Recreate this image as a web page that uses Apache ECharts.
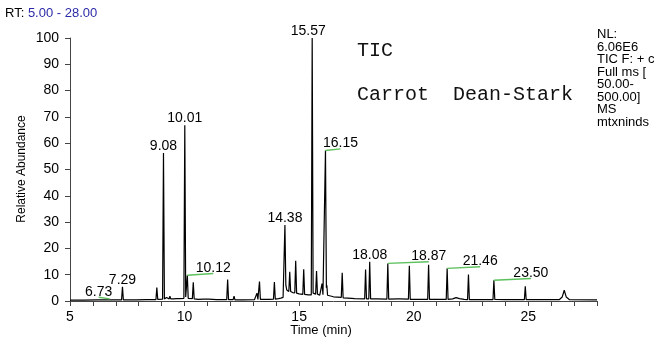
<!DOCTYPE html>
<html>
<head>
<meta charset="utf-8">
<script src="https://cdn.jsdelivr.net/npm/echarts@6/dist/echarts.min.js"></script>
<style>html,body{margin:0;padding:0;background:#fff;}#c{width:668px;height:340px;}</style>
</head>
<body>
<div id="c"></div>
<script>
// ---- data ----
const xTicks = [5, 10, 15, 20, 25];
const yTicks = [0, 10, 20, 30, 40, 50, 60, 70, 80, 90, 100];
// trace: [retention time (min), relative abundance]
const trace = [
[5.00,0.3],[5.60,0.3],[6.20,0.4],[6.68,0.4],[6.73,0.8],[6.78,0.4],
[7.25,0.4],[7.29,5.4],[7.33,0.4],
[7.90,0.4],[8.33,0.5],[8.37,1.2],[8.41,0.5],
[8.75,0.5],[8.79,5.1],[8.83,0.6],
[9.04,0.7],[9.08,56.3],[9.12,0.8],[9.18,0.8],[9.21,1.3],[9.25,0.7],
[9.33,0.8],[9.36,1.8],[9.40,0.8],[9.50,0.8],[9.54,1.5],[9.58,0.8],
[9.66,0.9],[9.69,1.6],[9.73,0.8],[9.80,0.9],[9.84,1.5],[9.88,0.9],
[9.97,1.0],[10.01,66.8],[10.05,1.5],[10.08,1.2],[10.12,9.8],[10.16,1.0],
[10.34,0.9],[10.38,7.1],[10.42,0.8],
[10.60,0.6],[10.84,0.7],[10.88,1.3],[10.92,0.6],[11.05,0.7],[11.09,1.4],[11.13,0.6],
[11.40,0.5],[11.84,0.5],[11.88,8.2],[11.92,0.5],
[12.12,0.5],[12.16,1.8],[12.20,0.4],
[12.56,0.4],[12.60,1.1],[12.64,0.4],
[13.05,0.5],[13.12,0.6],[13.16,3.0],[13.20,0.6],[13.23,0.7],[13.27,7.4],[13.31,0.6],
[13.70,0.6],[13.88,0.7],[13.92,7.2],[13.96,0.7],
[14.10,0.9],[14.20,1.1],[14.30,1.4],[14.34,1.8],[14.38,28.9],[14.42,6.0],[14.46,4.2],
[14.55,3.6],[14.59,11.1],[14.63,3.6],[14.72,3.2],[14.81,3.1],[14.85,15.3],[14.89,3.0],
[15.00,2.7],[15.16,2.5],[15.20,12.1],[15.24,2.5],[15.40,2.3],[15.53,2.3],[15.57,100],[15.61,3.0],
[15.66,2.6],[15.72,2.6],[15.76,11.4],[15.80,2.6],[15.90,2.2],[15.96,2.4],[16.00,6.6],[16.04,2.4],
[16.11,2.3],[16.15,57.2],[16.19,5.0],[16.21,6.0],[16.24,2.2],[16.50,1.6],
[16.84,1.4],[16.88,10.7],[16.92,1.2],
[17.30,1.0],[17.37,1.5],[17.42,0.9],
[17.86,0.8],[17.90,12.0],[17.94,0.8],[18.04,0.8],[18.08,14.9],[18.12,0.8],
[18.41,0.8],[18.45,1.3],[18.49,0.7],
[18.83,0.7],[18.87,14.3],[18.91,0.7],
[19.30,0.8],[19.35,1.5],[19.40,0.8],
[19.77,0.7],[19.81,13.4],[19.85,0.6],
[20.26,0.6],[20.30,1.0],[20.34,0.6],
[20.61,0.6],[20.65,13.8],[20.69,0.6],
[21.12,0.6],[21.17,1.1],[21.22,0.6],
[21.42,0.6],[21.46,12.4],[21.50,0.6],
[21.70,0.8],[21.85,1.3],[22.00,0.9],[22.20,0.6],
[22.35,0.5],[22.39,10.1],[22.43,0.5],
[23.00,0.5],[23.46,0.5],[23.50,7.9],[23.54,0.6],
[24.00,0.5],[24.83,0.5],[24.87,5.6],[24.91,0.5],
[26.35,0.5],[26.48,1.5],[26.57,4.1],[26.66,1.5],[26.80,0.5],[28.00,0.4]
];
// labelled peaks
const peakTimes   = [6.73, 7.29, 9.08, 10.01, 10.12, 14.38, 15.57, 16.15, 18.08, 18.87, 21.46, 23.50];
const peakHeights = [0.8, 5.4, 56.3, 66.8, 9.8, 28.9, 100, 57.2, 14.9, 14.3, 12.4, 7.9];
const hasLeader   = [true, false, false, false, true, false, false, true, false, true, true, true];
const infoLines = ['NL:', '6.06E6', 'TIC F: + c', 'Full ms [', '50.00-', '500.00]', 'MS', 'mtxninds'];

// ---- styling (pixel offsets of labels from their peak apex) ----
const labelDx = [-11, 0, 0, 0, 26, 0, -4, 15, 0, 41, 33, 37];
const labelDy = -7;

const chart = echarts.init(document.getElementById('c'), null, {renderer: 'canvas'});
const FONT = 'Liberation Sans, Arial, sans-serif';
const axisCol = '#444';

const labelData = peakTimes.map((t, i) => ({
  value: [t, peakHeights[i]],
  label: {offset: [labelDx[i], labelDy]}
}));
const leaderData = peakTimes.map((t, i) => [t, peakHeights[i], labelDx[i]]).filter((d, i) => hasLeader[i]);

chart.setOption({
  animation: false,
  backgroundColor: '#fff',
  grid: {left: 70, right: 71, top: 38, bottom: 39, containLabel: false},
  xAxis: {
    type: 'value', min: 5, max: 28, interval: 1,
    axisLine: {show: true, lineStyle: {color: axisCol, width: 1}},
    axisTick: {show: true, length: 5, lineStyle: {color: axisCol}},
    axisLabel: {
      margin: 9, color: '#000', fontSize: 14, fontFamily: FONT,
      formatter: v => xTicks.indexOf(v) >= 0 ? String(v) : ''
    },
    splitLine: {show: false}
  },
  yAxis: {
    type: 'value', min: 0, max: 100, interval: 10,
    axisLine: {show: true, lineStyle: {color: axisCol, width: 1}},
    axisTick: {show: true, length: 5, lineStyle: {color: axisCol}},
    axisLabel: {
      margin: 11, color: '#000', fontSize: 14, fontFamily: FONT,
      formatter: v => yTicks.indexOf(v) >= 0 ? String(v) : ''
    },
    splitLine: {show: false}
  },
  series: [
    {
      type: 'line', data: trace, showSymbol: false, symbol: 'none',
      lineStyle: {color: '#000', width: 1.2}, clip: false, z: 2
    },
    {
      type: 'custom', z: 3,
      data: leaderData,
      renderItem: function (params, api) {
        const p = api.coord([api.value(0), api.value(1)]);
        const dx = api.value(2);
        return {
          type: 'line',
          shape: {x1: p[0], y1: p[1], x2: p[0] + dx, y2: p[1] - 1.7},
          style: {stroke: '#5cc05c', lineWidth: 1.4}
        };
      }
    },
    {
      type: 'scatter', symbolSize: 0, data: labelData, z: 4, silent: true,
      itemStyle: {opacity: 1},
      label: {
        show: true, position: 'inside', align: 'center', verticalAlign: 'middle',
        color: '#000', textBorderWidth: 0, fontSize: 14, fontFamily: FONT,
        formatter: p => p.value[0].toFixed(2)
      }
    }
  ],
  graphic: [
    {type: 'text', left: 5, top: 7, style: {
      rich: {a: {fill: '#000', fontSize: 13, fontFamily: FONT}, b: {fill: '#2b2ba8', fontSize: 13, fontFamily: FONT}},
      text: '{a|RT: }{b|5.00 - 28.00}'
    }},
    {type: 'text', x: 22, y: 169, rotation: Math.PI / 2, style: {
      text: 'Relative Abundance', fill: '#000', fontSize: 12, fontFamily: FONT,
      align: 'center', verticalAlign: 'middle'
    }},
    {type: 'text', x: 321, y: 330, style: {
      text: 'Time (min)', fill: '#000', fontSize: 13, fontFamily: FONT,
      align: 'center', verticalAlign: 'middle'
    }},
    {type: 'text', left: 357, top: 41, style: {
      text: 'TIC', fill: '#111', fontSize: 20, fontFamily: 'Liberation Mono, monospace'
    }},
    {type: 'text', left: 357, top: 85, style: {
      text: 'Carrot  Dean-Stark', fill: '#111', fontSize: 20, fontFamily: 'Liberation Mono, monospace'
    }},
    {type: 'text', left: 597, top: 28, style: {
      text: infoLines.join('\n'), fill: '#000', fontSize: 13, lineHeight: 12.5, fontFamily: FONT
    }}
  ]
});
</script>
</body>
</html>
